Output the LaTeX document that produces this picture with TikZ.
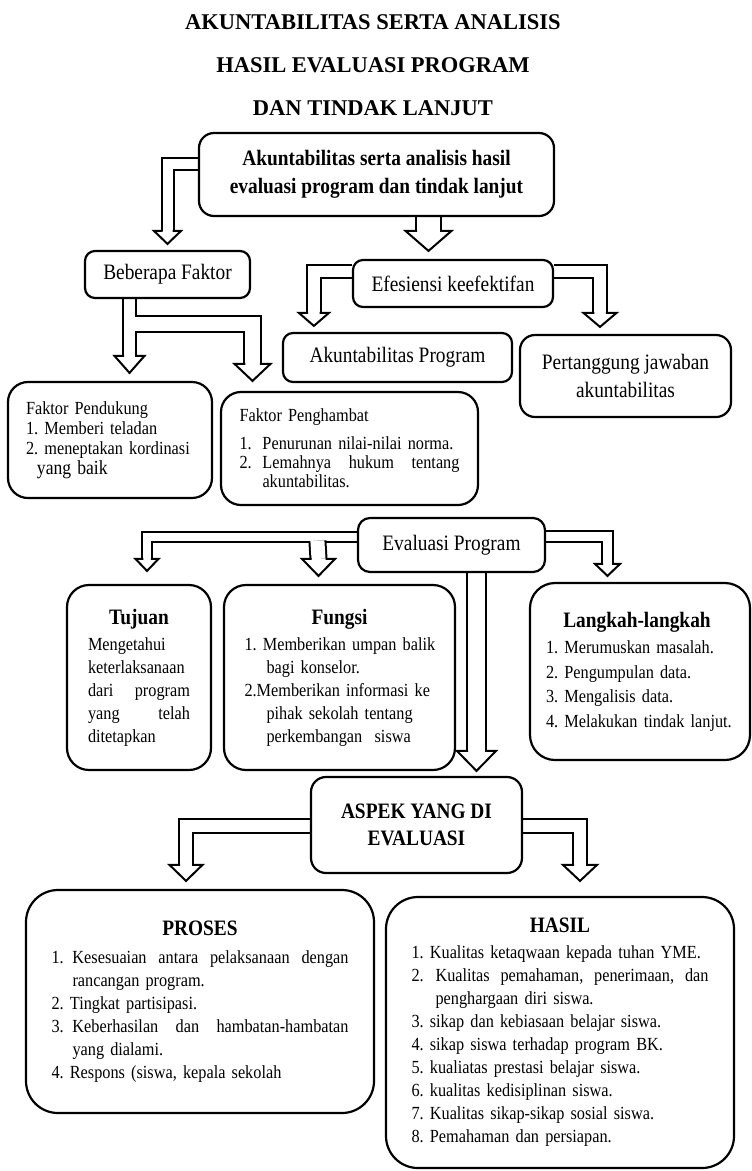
\documentclass[tikz,border=0pt]{standalone}
\usepackage{fontspec}
\setmainfont{Liberation Serif}
\newfontfamily\narrowfont[FakeStretch=0.88]{Liberation Serif}
\usetikzlibrary{backgrounds}
\setlength\parindent{0pt}
\frenchspacing
\hyphenpenalty=10000
\exhyphenpenalty=10000

\newcommand\midsize{\fontsize{22}{28}\selectfont}
\newcommand\listsize{\fontsize{18.5}{23}\selectfont}
\newcommand\head[2]{\makebox[#1][c]{\bfseries\fontsize{22}{23}\selectfont #2}}
% hollow block arrow: shaft, half head, head length, start, path op, tip shift, target
\newcommand\blockarrow[7]{%
  \draw[line width=#1+2pt] (#4) #5 ([#6,yshift=#3]#7);
  \draw[white, line width=#1-2pt] (#4) #5 ([#6,yshift=#3]#7);
  \draw[line width=2pt, fill=white]
    ([#6,yshift=#3,xshift=-0.5*#1+1pt]#7) -- ([#6,yshift=#3,xshift=-#2]#7) -- ([#6]#7)
    -- ([#6,yshift=#3,xshift=#2]#7) -- ([#6,yshift=#3,xshift=0.5*#1-1pt]#7);
}

\tikzset{
  panel/.style={draw, line width=2.2pt, fill=white, rounded corners=#1, inner sep=0pt,
    font=\narrowfont\midsize, align=center},
  panel/.default=12pt,
  listtext/.style={align=left, font=\narrowfont\listsize, text width=#1},
}

\begin{document}
\begin{tikzpicture}[x=1pt,y=-1pt]
\useasboundingbox (0,0) rectangle (752,1171);

\node[font=\bfseries\fontsize{22.5}{43}\selectfont, align=center] (title) at (373,65)
  {AKUNTABILITAS SERTA ANALISIS\\HASIL EVALUASI PROGRAM\\DAN TINDAK LANJUT};

\node[panel=15pt, minimum width=355pt, minimum height=83pt, font=\narrowfont\bfseries\midsize] (akun) at (376.5,174.5)
  {Akuntabilitas serta analisis hasil\\evaluasi program dan tindak lanjut};
\node[panel=10pt, minimum width=165pt, minimum height=47pt] (faktor) at (167.5,274.5) {Beberapa Faktor};
\node[panel=10pt, minimum width=200pt, minimum height=47pt] (efisiensi) at (453,283.5) {Efesiensi keefektifan};
\node[panel=10pt, minimum width=229pt, minimum height=49pt] (akprog) at (397.5,357.5) {Akuntabilitas Program};
\node[panel=15pt, minimum width=211pt, minimum height=82pt] (tanggung) at (625.5,376) {Pertanggung jawaban\\akuntabilitas};

\node[panel=20pt, minimum width=204pt, minimum height=116pt, listtext=168pt,
  font=\narrowfont\fontsize{18.5}{20}\selectfont] (dukung) at (110,440)
  {Faktor Pendukung\\1. Memberi teladan\\2. meneptakan kordinasi\\\hspace*{11pt}{\fontsize{20}{20}\selectfont yang baik}};
\node[panel=20pt, minimum width=257pt, minimum height=113pt, listtext=220pt,
  font=\narrowfont\fontsize{18.5}{19}\selectfont] (hambat) at (349.5,448.5)
  {Faktor Penghambat\\[9pt]\makebox[23pt][l]{1.}Penurunan nilai-nilai norma.\\
   \makebox[23pt][l]{2.}\makebox[197pt][l]{Lemahnya\hfill hukum\hfill tentang}\\\hspace*{23pt}akuntabilitas.};

\node[panel=12pt, minimum width=187pt, minimum height=54pt] (evaluasi) at (451.5,545) {Evaluasi Program};

\node[panel=22pt, minimum width=144pt, minimum height=185pt, listtext=102pt] (tujuan) at (139,677.5)
  {\head{102pt}{Tujuan}\\[3pt]Mengetahui\\keterlaksanaan\\\makebox[102pt][l]{dari\hfill program}\\
   \makebox[102pt][l]{yang\hfill telah}\\ditetapkan};
\node[panel=22pt, minimum width=231pt, minimum height=185pt, listtext=190pt] (fungsi) at (339.5,677.5)
  {\head{190pt}{Fungsi}\\[3pt]\mbox{1. Memberikan umpan balik}\\\hspace*{22pt}bagi konselor.\\
   \mbox{2.Memberikan informasi ke}\\\hspace*{22pt}pihak sekolah tentang\\\hspace*{22pt}perkembangan\ \ siswa};
\node[panel=25pt, minimum width=220pt, minimum height=177pt, listtext=188pt,
  font=\narrowfont\fontsize{18.5}{24.5}\selectfont] (langkah) at (640,671.5)
  {\head{182pt}{Langkah-langkah}\\[2pt]1. Merumuskan masalah.\\2. Pengumpulan data.\\
   3. Mengalisis data.\\\mbox{4. Melakukan tindak lanjut.}};

\node[panel=15pt, minimum width=211pt, minimum height=96pt,
  font=\narrowfont\bfseries\fontsize{22}{27}\selectfont] (aspek) at (416.5,825) {ASPEK YANG DI\\EVALUASI};

\node[panel=32pt, minimum width=348pt, minimum height=223pt, listtext=297pt] (proses) at (200,1001.5)
  {\head{297pt}{PROSES}\\[5pt]\makebox[21pt][l]{1.}\makebox[276pt][l]{Kesesuaian\hfill antara\hfill pelaksanaan\hfill dengan}\\
   \hspace*{21pt}rancangan program.\\2.\ Tingkat partisipasi.\\
   \makebox[21pt][l]{3.}\makebox[276pt][l]{Keberhasilan\hfill dan\hfill hambatan-hambatan}\\
   \hspace*{21pt}yang dialami.\\4. Respons (siswa, kepala sekolah};
\node[panel=32pt, minimum width=348pt, minimum height=271pt, listtext=297pt] (hasil) at (560,1032.5)
  {\head{297pt}{HASIL}\\[3pt]1. Kualitas ketaqwaan kepada tuhan YME.\\
   \makebox[24pt][l]{2.}\makebox[273pt][l]{Kualitas\hfill pemahaman,\hfill penerimaan,\hfill dan}\\
   \hspace*{24pt}penghargaan diri siswa.\\3. sikap dan kebiasaan belajar siswa.\\
   4. sikap siswa terhadap program BK.\\5. kualiatas prestasi belajar siswa.\\
   6. kualitas kedisiplinan siswa.\\7. Kualitas sikap-sikap sosial siswa.\\
   8. Pemahaman dan persiapan.};

\begin{pgfonlayer}{background}
\blockarrow{12pt}{13.5pt}{13pt}{[yshift=11pt]akun.west}{-|}{yshift=6pt}{faktor.north}
\blockarrow{25pt}{23pt}{20pt}{[xshift=52pt]akun.south}{--}{xshift=-24.5pt,yshift=8pt}{efisiensi.north}
\blockarrow{13.5pt}{15pt}{13pt}{[yshift=12pt]efisiensi.west}{-|}{xshift=32pt,yshift=6pt}{akprog.north west}
\blockarrow{13.5pt}{16.5pt}{14pt}{[yshift=12pt]efisiensi.east}{-|}{xshift=-25.5pt,yshift=7pt}{tanggung.north}
\blockarrow{13pt}{15pt}{17pt}{[xshift=-38pt]faktor.south}{--}{xshift=19.5pt,yshift=8pt}{dukung.north}
\blockarrow{16.5pt}{18pt}{17pt}{[xshift=-32.5pt,yshift=-25pt]faktor.south}{-|}{xshift=-97pt,yshift=10pt}{hambat.north}
\blockarrow{9.5pt}{11.5pt}{12pt}{[yshift=8pt]evaluasi.west}{-|}{xshift=8pt,yshift=13pt}{tujuan.north}
\blockarrow{16pt}{16.5pt}{17pt}{[xshift=-39.5pt,yshift=4.25pt]evaluasi.west}{--}{xshift=-21pt,yshift=8pt}{fungsi.north}
\blockarrow{11pt}{12.5pt}{12pt}{[yshift=9pt]evaluasi.east}{-|}{xshift=-32.5pt,yshift=6pt}{langkah.north}
\blockarrow{19pt}{19.5pt}{20pt}{[xshift=25pt]evaluasi.south}{--}{xshift=60pt,yshift=5pt}{aspek.north}
\blockarrow{14pt}{16.5pt}{16pt}{[yshift=-1pt]aspek.west}{-|}{xshift=-14pt,yshift=8pt}{proses.north}
\blockarrow{14pt}{17pt}{16pt}{[yshift=-1pt]aspek.east}{-|}{xshift=20pt,yshift=15pt}{hasil.north}
\end{pgfonlayer}
\end{tikzpicture}
\end{document}
